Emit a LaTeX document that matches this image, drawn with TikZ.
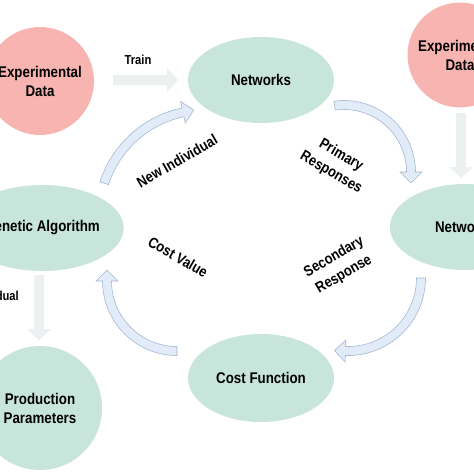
\documentclass[tikz,border=0pt]{standalone}
\usepackage{fontspec}
\setmainfont{Liberation Sans}[FakeStretch=0.86]
\usetikzlibrary{shapes.geometric,calc}
\definecolor{datapink}{HTML}{F7B4B1}
\definecolor{netgreen}{HTML}{C8E5DB}
\definecolor{flowfill}{HTML}{E2ECF8}
\definecolor{flowline}{HTML}{A3B8D2}
\definecolor{feedgray}{HTML}{ECF0F0}
% curved arrow: center, radius, start angle, end angle
\newcommand{\flowarc}[4]{%
\filldraw[flowarrow] ($(#1)+({#3}:{#2+4.5})$) arc[start angle=#3, end angle=#4, radius=#2+4.5]
  -- ($(#1)+({#4}:{#2+11})$) -- ($(#1)+({#4}:{#2})+({#4+90}:{11})$) -- ($(#1)+({#4}:{#2-11})$)
  -- ($(#1)+({#4}:{#2-4.5})$) arc[start angle=#4, end angle=#3, radius=#2-4.5] -- cycle;}
% straight arrow: from, to
\newcommand{\flowbar}[2]{%
\coordinate (hb) at ($(#2)!11pt!(#1)$);
\fill[feedarrow] ($(#1)!5pt!90:(#2)$) -- ($(hb)!5pt!-90:(#1)$) -- ($(hb)!12pt!-90:(#1)$) -- (#2)
  -- ($(hb)!12pt!90:(#1)$) -- ($(hb)!5pt!90:(#1)$) -- ($(#1)!5pt!-90:(#2)$) -- cycle;}
\begin{document}
\begin{tikzpicture}[x=1pt, y=-1pt,
  datanode/.style={circle, fill=datapink, inner sep=0pt, align=center, font=\fontsize{15.5}{19}\selectfont\bfseries},
  netnode/.style={ellipse, fill=netgreen, inner sep=0pt, align=center, font=\fontsize{15.5}{19}\selectfont\bfseries},
  lbl/.style={inner sep=0pt, align=center, font=\fontsize{15}{20}\selectfont\bfseries},
  flowarrow/.style={fill=flowfill, draw=flowline, line width=0.6pt},
  feedarrow/.style={fill=feedgray}]
\useasboundingbox (0,0) rectangle (474,474);
\node[datanode, minimum size=108pt] (exp1) at (40,81) {Experimental\\Data};
\node[datanode, minimum size=105pt] (exp2) at (460,55) {Experimental\\Data};
\node[netnode, minimum width=146pt, minimum height=86pt] (net1) at (261,80) {Networks};
\node[netnode, minimum width=150pt, minimum height=86pt] (net2) at (465,227) {Networks};
\node[netnode, minimum width=146pt, minimum height=86pt] (gen) at (42,228) {Genetic Algorithm};
\node[netnode, minimum width=146pt, minimum height=88pt] (cost) at (261,378) {Cost Function};
\node[circle, fill=netgreen, inner sep=0pt, minimum size=124pt, align=center,
  font=\fontsize{15.5}{19}\selectfont\bfseries] (prod) at (40,408) {Production\\Parameters};
% straight arrows
\coordinate (train0) at (113,80);
\coordinate (train1) at (178,80);
\flowbar{train0}{train1}
\coordinate (feed0) at (461,113);
\coordinate (feed1) at (461,178);
\flowbar{feed0}{feed1}
\coordinate (best0) at (39,275);
\coordinate (best1) at (39,340);
\flowbar{best0}{best1}
% loop arrows
\coordinate (c1) at (205,216);
\coordinate (c2) at (344,172);
\coordinate (c3) at (348,278);
\coordinate (c4) at (177,281);
\flowarc{c1}{106}{198}{258}
\flowarc{c2}{67}{262}{360}
\flowarc{c3}{73}{0}{92}
\flowarc{c4}{70}{90}{180}
% labels
\node[lbl, font=\fontsize{13}{16}\selectfont\bfseries] (ltrain) at (138,60) {Train};
\node[lbl, rotate=30] (lnew) at (177,161) {New Individual};
\node[lbl, rotate=-30] (lprim) at (336,164) {Primary\\Responses};
\node[lbl, rotate=30] (lsec) at (339,266) {Secondary\\Response};
\node[lbl, rotate=-30] (lcost) at (178,257) {Cost Value};
\node[lbl, anchor=east, font=\fontsize{13}{16}\selectfont\bfseries] (lbest) at (19,296) {Individual};
\end{tikzpicture}
\end{document}
